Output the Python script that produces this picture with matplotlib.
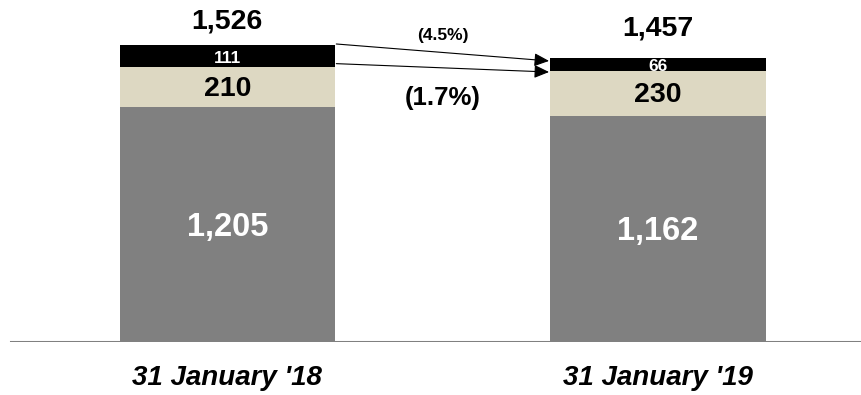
import matplotlib
matplotlib.use("Agg")
import matplotlib.pyplot as plt

plt.rcParams['font.family'] = ['Liberation Sans', 'DejaVu Sans']

categories = ["31 January '18", "31 January '19"]
base_vals = [1205, 1162]
mid_vals = [210, 230]
top_vals = [111, 66]
totals = [1526, 1457]
change_total = "(4.5%)"
change_base = "(1.7%)"

W, H = 861, 395
fig = plt.figure(figsize=(W / 100, H / 100), dpi=100)
base_px = 53
ax = fig.add_axes([0, base_px / H, 1, (H - base_px) / H])
ax.set_ylim(0, 1757)
ax.set_xlim(-0.528, 1.4715)
ax.axis('off')

x = [0, 1]
bw = 0.5
c_base = '#808080'
c_mid = '#ddd8c2'
c_top = '#000000'
bottoms3 = [b + m for b, m in zip(base_vals, mid_vals)]
ax.bar(x, base_vals, width=bw, color=c_base, zorder=2)
ax.bar(x, mid_vals, width=bw, bottom=base_vals, color=c_mid, zorder=4)
ax.bar(x, top_vals, width=bw, bottom=bottoms3, color=c_top, zorder=2)

total_offsets = [120, 153]
for i in range(2):
    ax.text(x[i], base_vals[i] / 2 - 12, f"{base_vals[i]:,}", ha='center', va='center',
            color='white', fontsize=23.5, fontweight='bold', zorder=5)
    ax.text(x[i], base_vals[i] + mid_vals[i] / 2 - 10, f"{mid_vals[i]:,}", ha='center', va='center',
            color='black', fontsize=20.5, fontweight='bold', zorder=5)
    ax.text(x[i], bottoms3[i] + top_vals[i] / 2 - 12, f"{top_vals[i]:,}", ha='center', va='center',
            color='white', fontsize=12.5, fontweight='bold', zorder=3)
    ax.text(x[i], totals[i] + total_offsets[i], f"{totals[i]:,}", ha='center', va='center',
            color='black', fontsize=20.5, fontweight='bold', zorder=5)

# baseline
ax.axhline(0, xmin=11 / W, xmax=1, color='#808080', lw=2.2, zorder=6)

# category labels
for i in range(2):
    ax.text(x[i], -185, categories[i], ha='center', va='center', fontsize=20,
            fontweight='bold', fontstyle='italic')

# arrows
x0 = x[0] + bw / 2 + 0.003
x1 = x[1] - bw / 2 - 0.003
astyle = dict(arrowstyle='-|>,head_length=0.9,head_width=0.4',
              color='black', lw=0.8, shrinkA=0, shrinkB=0)
ax.annotate('', xy=(x1, totals[1] - 13), xytext=(x0, totals[0] + 5), arrowprops=astyle)
ax.annotate('', xy=(x1, bottoms3[1] - 5), xytext=(x0, bottoms3[0] + 15), arrowprops=astyle)
ax.text(0.5, 1575, change_total, ha='center', va='center', fontsize=12.5, fontweight='bold')
ax.text(0.5, 1252, change_base, ha='center', va='center', fontsize=18.5, fontweight='bold')

fig.savefig('out.png', dpi=100)
